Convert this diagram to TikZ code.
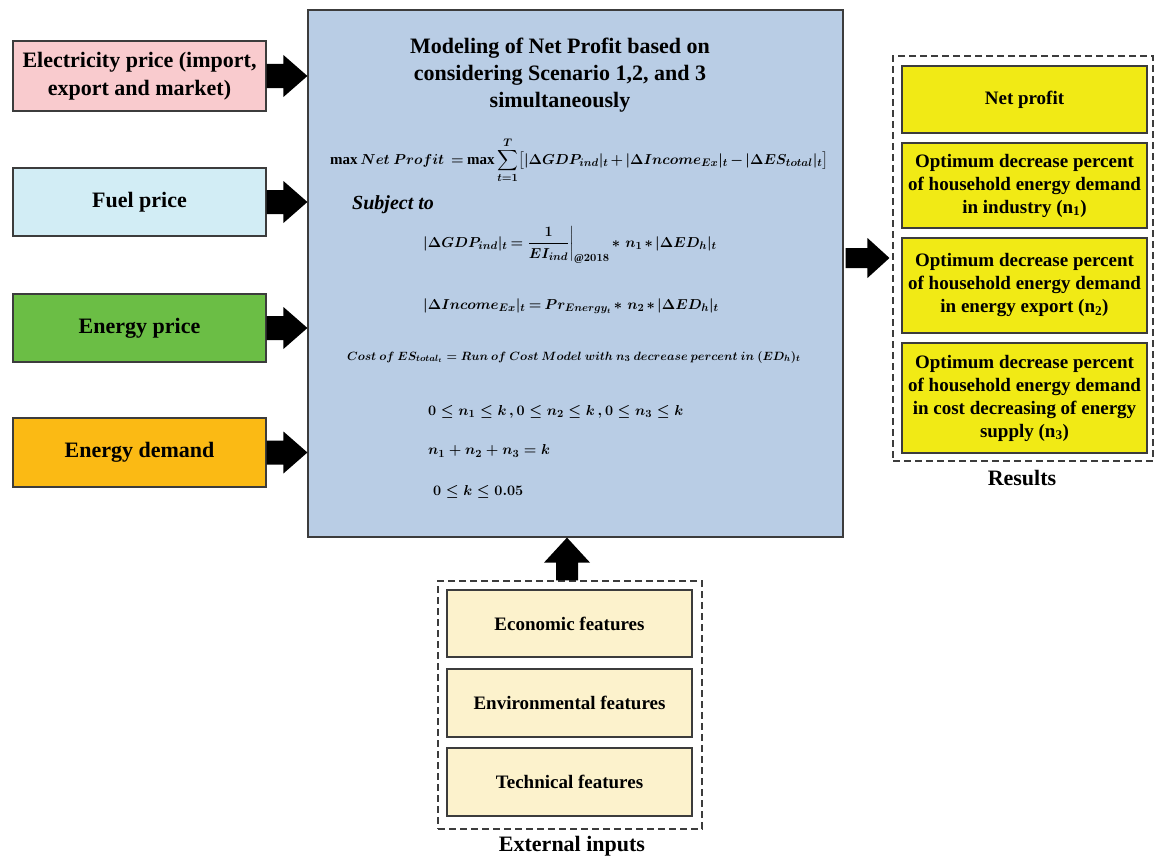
\documentclass[tikz,border=0pt]{standalone}
\usepackage{amsmath}
\usepackage{fontspec}
\setmainfont{Liberation Serif}
\usetikzlibrary{calc}
\definecolor{mainblue}{RGB}{185,205,229}
\definecolor{pinkc}{RGB}{249,203,206}
\definecolor{cyanc}{RGB}{210,237,245}
\definecolor{greenc}{RGB}{107,190,69}
\definecolor{orangec}{RGB}{251,186,20}
\definecolor{yellowc}{RGB}{241,234,21}
\definecolor{beigec}{RGB}{252,242,204}
\definecolor{edgec}{RGB}{60,60,60}
\newcommand\tightmu{\medmuskip=2.5mu\relax\thickmuskip=3.5mu\relax}
\begin{document}
\begin{tikzpicture}[x=1pt,y=-1pt,
  box/.style={draw=edgec, line width=1.2pt, inner sep=2pt, align=center, font=\bfseries\fontsize{22}{28}\selectfont},
  inbox/.style={box, minimum width=253, font=\bfseries\fontsize{22}{28}\selectfont},
  resbox/.style={box, minimum width=245, font=\bfseries\fontsize{19}{23}\selectfont},
  extbox/.style={box, minimum width=245, fill=beigec, minimum height=68, font=\bfseries\fontsize{19}{23}\selectfont},
  dashbox/.style={draw=edgec, line width=1.1pt, dash pattern=on 7pt off 4pt},
  lbl/.style={font=\bfseries\fontsize{22}{26}\selectfont},
  mth/.style={anchor=west, inner sep=0pt, font=\fontsize{15}{18}\selectfont\boldmath},
]
\useasboundingbox (0,0) rectangle (1154,859);

% main model box
\node[draw=edgec, line width=1.2pt, fill=mainblue, minimum width=535, minimum height=527, inner sep=0] (main) at (575.5,273.5) {};
\node[align=center, font=\bfseries\fontsize{22}{27}\selectfont] (title) at (560,75) {Modeling of Net Profit based on\\considering Scenario 1,2, and 3\\simultaneously};
\node[mth] (eq1) at (330,160) {$\tightmu\displaystyle \max Net\ Profit\ = \max\sum_{t=1}^{T}\bigl[|\Delta GDP_{ind}|_t+|\Delta Income_{Ex}|_t-|\Delta ES_{total}|_t\bigr]$};
\node[anchor=west, inner sep=0pt, font=\bfseries\itshape\fontsize{20}{24}\selectfont] (subj) at (352,205) {Subject to};
\node[mth] (eq2) at (423,245) {$\tightmu\displaystyle |\Delta GDP_{ind}|_t=\left.\frac{1}{EI_{ind}}\right|_{@2018}*\,n_1*|\Delta ED_h|_t$};
\node[mth] (eq3) at (423,306) {$\tightmu|\Delta Income_{Ex}|_t=Pr_{Energy_t}*\,n_2*|\Delta ED_h|_t$};
\node[mth, font=\fontsize{12.3}{14}\selectfont\boldmath] (eq4) at (347,357) {$Cost\ of\ ES_{total_t}=Run\ of\ Cost\ Model\ with\ n_3\ decrease\ percent\ in\ (ED_h)_t$};
\node[mth] (c1) at (428,412) {$0\le n_1\le k\,,0\le n_2\le k\,,0\le n_3\le k$};
\node[mth] (c2) at (428,451) {$n_1+n_2+n_3=k$};
\node[mth] (c3) at (433,492) {$0\le k\le 0.05$};

% left inputs
\node[inbox, fill=pinkc, minimum height=70] (elec) at (139.5,76) {Electricity price (import,\\export and market)};
\node[inbox, fill=cyanc, minimum height=68] (fuel) at (139.5,202) {Fuel price};
\node[inbox, fill=greenc, minimum height=68] (eprice) at (139.5,328) {Energy price};
\node[inbox, fill=orangec, minimum height=69] (edem) at (139.5,452.5) {Energy demand};

% results
\node[dashbox, minimum width=260, minimum height=405, inner sep=0] (results) at (1023,258.5) {};
\node[resbox, fill=yellowc, minimum height=67] (np) at (1024.5,99.5) {Net profit};
\node[resbox, fill=yellowc, minimum height=85] (r1) at (1024.5,185.5) {Optimum decrease percent\\of household energy demand\\in industry (n\textsubscript{1})};
\node[resbox, fill=yellowc, minimum height=95] (r2) at (1024.5,285.5) {Optimum decrease percent\\of household energy demand\\in energy export (n\textsubscript{2})};
\node[resbox, fill=yellowc, minimum height=110] (r3) at (1024.5,398) {Optimum decrease percent\\of household energy demand\\in cost decreasing of energy\\supply (n\textsubscript{3})};
\node[lbl] (reslbl) at (1022,478) {Results};

% external inputs
\node[dashbox, minimum width=264, minimum height=248, inner sep=0] (ext) at (570,705) {};
\node[extbox, minimum height=67] (eco) at (569.5,623.5) {Economic features};
\node[extbox] (env) at (569.5,703) {Environmental features};
\node[extbox] (tec) at (569.5,782) {Technical features};
\node[lbl] (extlbl) at (572,846) {External inputs};

% block arrows into main box
\foreach \nm in {elec,fuel,eprice,edem}{
  \fill[black] let \p1=(\nm.east), \p2=(main.west) in
    (\x1,\y1+12pt) -- (\x2-24pt,\y1+12pt) -- (\x2-24pt,\y1+21pt) -- (\x2,\y1)
    -- (\x2-24pt,\y1-21pt) -- (\x2-24pt,\y1-12pt) -- (\x1,\y1-12pt) -- cycle;
}
% arrow main -> results
\coordinate (rstart) at ($(main.east)+(2,-15.5)$);
\fill[black] let \p1=(rstart), \p2=(results.west) in
  (\x1,\y1+10pt) -- (\x2-25pt,\y1+10pt) -- (\x2-25pt,\y1+20pt) -- (\x2-3pt,\y1)
  -- (\x2-25pt,\y1-20pt) -- (\x2-25pt,\y1-10pt) -- (\x1,\y1-10pt) -- cycle;
% arrow ext -> main
\fill[black] let \p1=($(ext.north)+(-3,0)$), \p2=(main.south) in
  (\x1-11pt,\y1) -- (\x1-11pt,\y2-25pt) -- (\x1-23pt,\y2-25pt) -- (\x1,\y2)
  -- (\x1+23pt,\y2-25pt) -- (\x1+11pt,\y2-25pt) -- (\x1+11pt,\y1) -- cycle;
\end{tikzpicture}
\end{document}
